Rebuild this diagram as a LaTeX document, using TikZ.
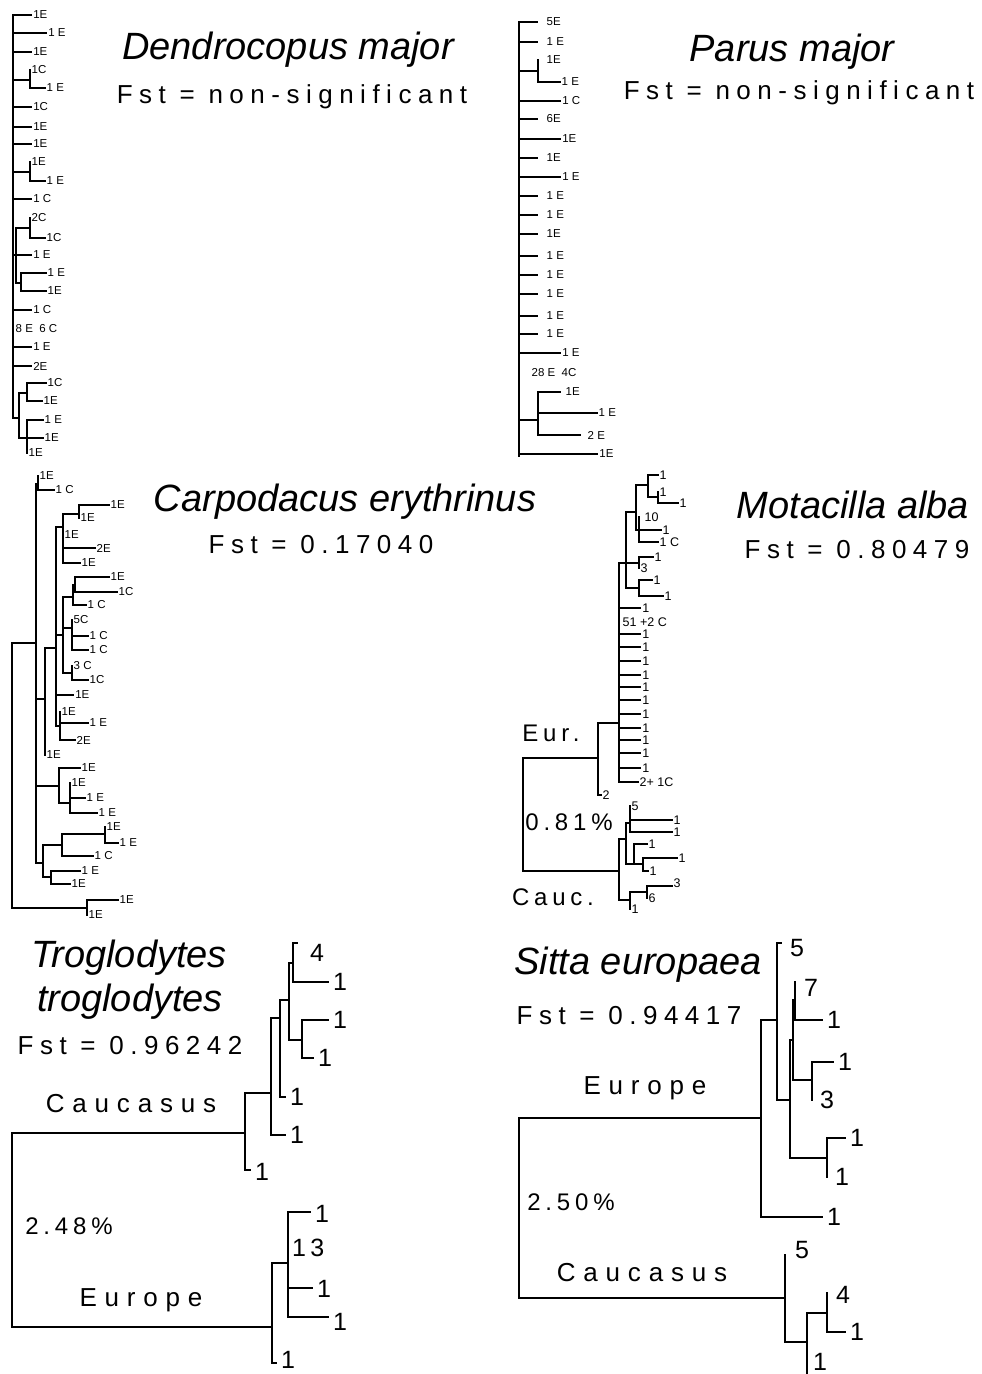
\documentclass[tikz,border=0pt]{standalone}
\usepackage{fontspec}
\setmainfont{Liberation Sans}
\begin{document}
\begin{tikzpicture}[x=1pt, y=-1pt,
  br/.style={line width=1.7pt, line cap=rect},
  tip/.style={anchor=west, inner sep=0pt, xshift=1.5pt, font=\fontsize{11.5}{13}\selectfont},
  mtip/.style={tip, font=\fontsize{12.5}{14}\selectfont},
  btip/.style={anchor=west, inner sep=0pt, xshift=5pt, font=\fontsize{25}{28}\selectfont},
  title/.style={font=\fontsize{38}{44}\selectfont\itshape},
  fst/.style={font=\fontsize{26}{30}\selectfont\addfontfeature{LetterSpace=25}},
  grp/.style={font=\fontsize{26}{30}\selectfont\addfontfeature{LetterSpace=30}},
  pct/.style={font=\fontsize{24}{28}\selectfont\addfontfeature{LetterSpace=20}}
]
\fill[white] (0,0) rectangle (982,1374);

% titles
\node[title] (dmT) at (288,50) {Dendrocopus major};
\node[fst] (dmF) at (292,97) {Fst = non-significant};
\node[title] (pmT) at (792,52) {Parus major};
\node[fst] (pmF) at (799,93) {Fst = non-significant};
\node[title] (ceT) at (345,502) {Carpodacus erythrinus};
\node[fst] (ceF) at (321,545) {Fst = 0.17040};
\node[title] (maT) at (853,505) {Motacilla alba};
\node[fst] (maF) at (857,550) {Fst = 0.80479};
\node[title] (ttT1) at (129,958) {Troglodytes};
\node[title] (ttT2) at (130,1002) {troglodytes};
\node[fst] (ttF) at (130,1046) {Fst = 0.96242};
\node[title] (seT) at (638,965) {Sitta europaea};
\node[fst] (seF) at (629,1016) {Fst = 0.94417};

% Dendrocopus major
\draw[br] (13,15) -- (13,418) -- (19,418);
\foreach \y/\e/\t in {15/31/1E, 33/46/1 E, 52/31/1E, 107/31/1C, 127/31/1E, 144/31/1E,
  199/31/1 C, 310/31/1 C, 347/31/1 E, 366/31/2E}
  \draw[br] (13,\y) -- (\e,\y) node[tip] (dm\y) {\t};
\draw[br] (13,80) -- (30,80) (30,70) -- (30,88) -- (45,88);
\node[tip] (dm70) at (30,70) {1C};
\node[tip] (dm88) at (45,88) {1 E};
\draw[br] (13,172) -- (30,172) (30,162) -- (30,181) -- (45,181);
\node[tip] (dm162) at (30,162) {1E};
\node[tip] (dm181) at (45,181) {1 E};
\draw[br] (13,255) -- (16,255) (16,228) -- (16,283);
\draw[br] (16,228) -- (30,228) (30,218) -- (30,238) -- (45,238);
\node[tip] (dm218) at (30,218) {2C};
\node[tip] (dm238) at (45,238) {1C};
\draw[br] (16,255) -- (31,255) node[tip] (dm255) {1 E};
\draw[br] (16,283) -- (21,283) (46,273) -- (21,273) -- (21,291) -- (46,291);
\node[tip] (dm273) at (46,273) {1 E};
\node[tip] (dm291) at (46,291) {1E};
\node[tip] (dm329) at (14,329) {8 E\ \ 6 C};
\draw[br] (19,393) -- (19,438);
\draw[br] (19,393) -- (27,393) (46,383) -- (27,383) -- (27,401) -- (42,401);
\node[tip] (dm383) at (46,383) {1C};
\node[tip] (dm401) at (42,401) {1E};
\draw[br] (19,438) -- (43,438) (43,420) -- (27,420) -- (27,453);
\node[tip] (dm420) at (43,420) {1 E};
\node[tip] (dm438) at (43,438) {1E};
\node[tip] (dm453) at (27,453) {1E};

% Parus major
\draw[br] (519,22) -- (519,456);
\foreach \y/\t in {22/5E, 42/1 E, 119/6E, 158/1E, 196/1 E, 215/1 E, 234/1E,
  256/1 E, 275/1 E, 294/1 E, 316/1 E, 334/1 E} {
  \draw[br] (519,\y) -- (537,\y);
  \node[tip] (pm\y) at (545,\y) {\t};
}
\foreach \y/\t in {101/1 C, 139/1E, 177/1 E, 353/1 E}
  \draw[br] (519,\y) -- (560,\y) node[tip] (pm\y) {\t};
\draw[br] (519,454) -- (597,454) node[tip] (pm454) {1E};
\draw[br] (519,71) -- (538,71) (538,60) -- (538,82) -- (560,82);
\node[tip] (pm60) at (545,60) {1E};
\node[tip] (pm82) at (560,82) {1 E};
\node[tip] (pm373) at (530,373) {28 E\ \ 4C};
\draw[br] (519,420) -- (538,420) (560,392) -- (538,392) -- (538,435) -- (580,435);
\draw[br] (538,413) -- (597,413);
\node[tip] (pm392) at (564,392) {1E};
\node[tip] (pm413) at (597,413) {1 E};
\node[tip] (pm435) at (586,435) {2 E};

% Carpodacus erythrinus
\draw[br] (36,643) -- (12,643) -- (12,908) -- (87,908);
\draw[br] (36,484) -- (36,863);
\draw[br] (36,484) -- (38,484) (38,476) -- (38,490) -- (54,490);
\node[tip] (ce476) at (38,476) {1E};
\node[tip] (ce490) at (54,490) {1 C};
\draw[br] (36,699) -- (45,699) (45,648) -- (45,755);
\node[tip] (ce755) at (45,755) {1E};
\draw[br] (45,648) -- (56,648) (56,527) -- (56,726);
\draw[br] (56,527) -- (63,527) (63,514) -- (63,563) -- (80,563) (63,548) -- (95,548);
\draw[br] (63,514) -- (79,514) (109,505) -- (79,505) -- (79,518);
\node[tip] (ce505) at (109,505) {1E};
\node[tip] (ce518) at (79,518) {1E};
\node[tip] (ce535) at (63,535) {1E};
\node[tip] (ce548) at (95,548) {2E};
\node[tip] (ce563) at (80,563) {1E};
\draw[br] (56,635) -- (63,635) (63,597) -- (63,673);
\draw[br] (63,597) -- (73,597) (73,585) -- (73,605) -- (86,605);
\draw[br] (73,585) -- (75,585) (109,577) -- (75,577) -- (75,592) -- (117,592);
\node[tip] (ce577) at (109,577) {1E};
\node[tip] (ce592) at (117,592) {1C};
\node[tip] (ce605) at (86,605) {1 C};
\draw[br] (63,628) -- (72,628) (72,620) -- (72,650) -- (88,650) (72,636) -- (88,636);
\node[tip] (ce620) at (72,620) {5C};
\node[tip] (ce636) at (88,636) {1 C};
\node[tip] (ce650) at (88,650) {1 C};
\draw[br] (63,673) -- (72,673) (72,666) -- (72,680) -- (88,680);
\node[tip] (ce666) at (72,666) {3 C};
\node[tip] (ce680) at (88,680) {1C};
\draw[br] (56,695) -- (73,695) node[tip] (ce695) {1E};
\draw[br] (56,726) -- (60,726) (60,712) -- (60,740) -- (75,740) (60,723) -- (88,723);
\node[tip] (ce712) at (60,712) {1E};
\node[tip] (ce723) at (88,723) {1 E};
\node[tip] (ce740) at (75,740) {2E};
\draw[br] (36,786) -- (59,786) (80,768) -- (59,768) -- (59,803) -- (70,803);
\draw[br] (70,783) -- (70,813) -- (97,813) (70,798) -- (85,798);
\node[tip] (ce768) at (80,768) {1E};
\node[tip] (ce783) at (70,783) {1E};
\node[tip] (ce798) at (85,798) {1 E};
\node[tip] (ce813) at (97,813) {1 E};
\draw[br] (36,863) -- (43,863) (43,845) -- (43,877);
\draw[br] (43,845) -- (62,845) (62,834) -- (62,856) -- (93,856);
\draw[br] (62,834) -- (105,834) (105,827) -- (105,843) -- (118,843);
\node[tip] (ce827) at (105,827) {1E};
\node[tip] (ce843) at (118,843) {1 E};
\node[tip] (ce856) at (93,856) {1 C};
\draw[br] (43,877) -- (51,877) (80,871) -- (51,871) -- (51,884) -- (70,884);
\node[tip] (ce871) at (80,871) {1 E};
\node[tip] (ce884) at (70,884) {1E};
\draw[br] (118,900) -- (87,900) -- (87,915);
\node[tip] (ce900) at (118,900) {1E};
\node[tip] (ce915) at (87,915) {1E};

% Motacilla alba
\node[pct] (maE) at (551,733) {Eur.};
\node[pct] (maP) at (569,822) {0.81\%};
\node[pct] (maC) at (553,897) {Cauc.};
\draw[br] (598,758) -- (523,758) -- (523,871) -- (619,871);
\draw[br] (619,723) -- (598,723) -- (598,795) -- (601,795);
\node[mtip] (ma795) at (601,795) {2};
\draw[br] (619,563) -- (619,782) -- (638,782);
\node[mtip] (ma782) at (638,782) {2+ 1C};
\foreach \y in {608,634,647,661,675,687,700,714,728,740,753,768}
  \draw[br] (619,\y) -- (640,\y) node[mtip] (ma\y) {1};
\node[mtip] (ma622) at (621,622) {51 +2 C};
\draw[br] (619,563) -- (639,563) (626,512) -- (626,588);
\draw[br] (626,512) -- (636,512) (636,485) -- (636,530) -- (639,530);
\draw[br] (636,485) -- (648,485) (658,475) -- (648,475) -- (648,497) -- (658,497);
\draw[br] (658,492) -- (658,503) -- (678,503);
\node[mtip] (ma475) at (658,475) {1};
\node[mtip] (ma492) at (658,492) {1};
\node[mtip] (ma503) at (678,503) {1};
\draw[br] (639,517) -- (639,542) -- (658,542) (639,530) -- (661,530);
\node[mtip] (ma517) at (643,517) {10};
\node[mtip] (ma530) at (661,530) {1};
\node[mtip] (ma542) at (658,542) {1 C};
\draw[br] (653,557) -- (639,557) -- (639,568);
\node[mtip] (ma557) at (653,557) {1};
\node[mtip] (ma568) at (639,568) {3};
\draw[br] (626,588) -- (639,588) (652,580) -- (639,580) -- (639,596) -- (663,596);
\node[mtip] (ma580) at (652,580) {1};
\node[mtip] (ma596) at (663,596) {1};
\draw[br] (619,839) -- (619,900);
\draw[br] (619,839) -- (626,839) (626,823) -- (626,864);
\draw[br] (626,823) -- (630,823) (630,806) -- (630,832) -- (672,832) (630,820) -- (672,820);
\node[mtip] (ma806) at (630,806) {5};
\node[mtip] (ma820) at (672,820) {1};
\node[mtip] (ma832) at (672,832) {1};
\draw[br] (626,864) -- (643,864) (647,844) -- (634,844) -- (634,864);
\draw[br] (677,858) -- (643,858) -- (643,871) -- (648,871);
\node[mtip] (ma844) at (647,844) {1};
\node[mtip] (ma858) at (677,858) {1};
\node[mtip] (ma871) at (648,871) {1};
\draw[br] (619,900) -- (630,900) (630,892) -- (630,909) (630,892) -- (647,892);
\draw[br] (672,886) -- (647,886) -- (647,898);
\node[mtip] (ma886) at (672,883) {3};
\node[mtip] (ma898) at (647,898) {6};
\node[mtip] (ma909) at (630,909) {1};

% Troglodytes troglodytes
\node[grp] (ttC) at (131,1104) {Caucasus};
\node[pct] (ttP) at (69,1226) {2.48\%};
\node[grp] (ttE) at (141,1300) {Europe};
\draw[br] (245,1133) -- (12,1133) -- (12,1327) -- (272,1327);
\draw[br] (245,1093) -- (245,1170) -- (250,1170);
\node[btip] (tt1170) at (250,1172) {1};
\draw[br] (245,1093) -- (271,1093) (271,1018) -- (271,1135) -- (285,1135);
\node[btip] (tt1135) at (285,1135) {1};
\draw[br] (271,1018) -- (280,1018) (280,1000) -- (280,1097) -- (285,1097);
\node[btip] (tt1097) at (285,1097) {1};
\draw[br] (280,1000) -- (289,1000) (289,963) -- (289,1040) -- (302,1040);
\draw[br] (289,963) -- (293,963) (297,943) -- (293,943) -- (293,982) -- (328,982);
\node[btip] (tt943) at (305,953) {4};
\node[btip] (tt982) at (328,982) {1};
\draw[br] (328,1020) -- (302,1020) -- (302,1058) -- (313,1058);
\node[btip] (tt1020) at (328,1020) {1};
\node[btip] (tt1058) at (313,1058) {1};
\draw[br] (272,1263) -- (272,1363) -- (276,1363) (272,1263) -- (288,1263);
\draw[br] (310,1212) -- (288,1212) -- (288,1317) -- (328,1317) (288,1288) -- (312,1288);
\node[btip] (tt1212) at (310,1214) {1};
\node[btip] (tt1248) at (287,1248) {1\,3};
\node[btip] (tt1288) at (312,1289) {1};
\node[btip] (tt1317) at (328,1322) {1};
\node[btip] (tt1363) at (276,1360) {1};

% Sitta europaea
\node[grp] (seE) at (645,1088) {Europe};
\node[pct] (seP) at (571,1202) {2.50\%};
\node[grp] (seC) at (642,1273) {Caucasus};
\draw[br] (761,1118) -- (519,1118) -- (519,1298) -- (785,1298);
\draw[br] (761,1020) -- (761,1217) -- (822,1217);
\node[btip] (se1217) at (822,1217) {1};
\draw[br] (761,1020) -- (777,1020) (781,943) -- (777,943) -- (777,1100) -- (790,1100);
\node[btip] (se943) at (785,948) {5};
\draw[br] (790,1040) -- (790,1158) -- (827,1158);
\draw[br] (790,1040) -- (793,1040) (793,1000) -- (793,1080) -- (812,1080);
\draw[br] (793,1000) -- (795,1000) (795,982) -- (795,1020) -- (822,1020);
\node[btip] (se982) at (799,988) {7};
\node[btip] (se1020) at (822,1020) {1};
\draw[br] (833,1062) -- (812,1062) -- (812,1100);
\node[btip] (se1062) at (833,1062) {1};
\node[btip] (se1100) at (815,1100) {3};
\draw[br] (845,1138) -- (827,1138) -- (827,1177);
\node[btip] (se1138) at (845,1138) {1};
\node[btip] (se1177) at (830,1177) {1};
\draw[br] (785,1255) -- (785,1342) -- (807,1342) (807,1313) -- (807,1373) (807,1313) -- (827,1313);
\draw[br] (827,1293) -- (827,1332) -- (845,1332);
\node[btip] (se1255) at (790,1250) {5};
\node[btip] (se1293) at (831,1295) {4};
\node[btip] (se1332) at (845,1332) {1};
\node[btip] (se1373) at (808,1362) {1};
\end{tikzpicture}
\end{document}
